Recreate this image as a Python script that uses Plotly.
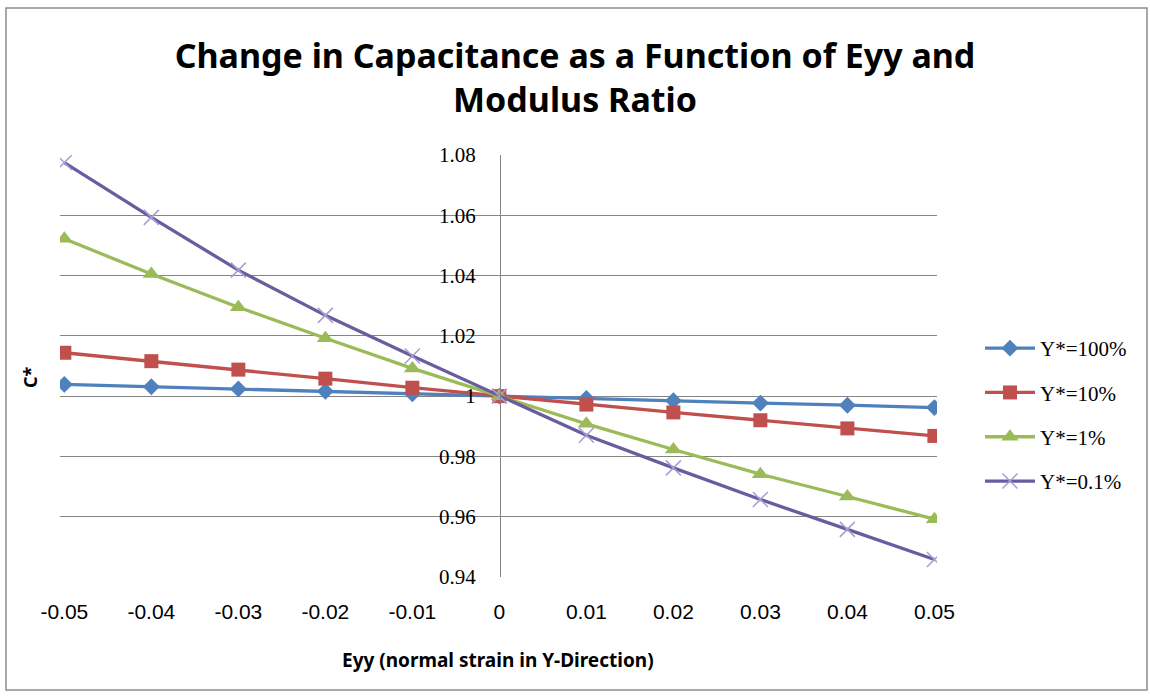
import plotly.graph_objects as go

eyy = [-0.05, -0.04, -0.03, -0.02, -0.01, 0, 0.01, 0.02, 0.03, 0.04, 0.05]
x_tick_labels = ["-0.05", "-0.04", "-0.03", "-0.02", "-0.01", "0", "0.01", "0.02", "0.03", "0.04", "0.05"]

c_100 = [1.0039, 1.0031, 1.0024, 1.0016, 1.0008, 1.0, 0.9992, 0.9985, 0.9977, 0.9970, 0.9962]
c_10 = [1.0144, 1.0116, 1.0088, 1.0058, 1.0028, 1.0, 0.9972, 0.9946, 0.9920, 0.9893, 0.9868]
c_1 = [1.0522, 1.0405, 1.0295, 1.0192, 1.0092, 1.0, 0.9908, 0.9823, 0.9741, 0.9667, 0.9592]
c_01 = [1.0775, 1.0593, 1.0418, 1.0268, 1.0133, 1.0, 0.9870, 0.9762, 0.9657, 0.9558, 0.9458]

y_ticks = [0.94, 0.96, 0.98, 1.00, 1.02, 1.04, 1.06, 1.08]
y_tick_labels = ["0.94", "0.96", "0.98", "1", "1.02", "1.04", "1.06", "1.08"]

series = [
    ("Y*=100%", c_100, "#4F81BD", "diamond", 13, "#4F81BD"),
    ("Y*=10%", c_10, "#C0504D", "square", 14, "#C0504D"),
    ("Y*=1%", c_1, "#9BBB59", "triangle-up", 15, "#9BBB59"),
    ("Y*=0.1%", c_01, "#6A5D9F", "x-thin-open", 15, "#A99CD0"),
]

fig = go.Figure()
for name, vals, col, sym, sz, mcol in series:
    mk = dict(symbol=sym, size=sz, color=mcol)
    if sym == "x-thin-open":
        mk["line"] = dict(color=mcol, width=1.5)
    fig.add_trace(go.Scatter(
        x=eyy, y=vals, name=name, mode="lines+markers",
        line=dict(color=col, width=3.3), marker=mk,
        legendgroup=name,
    ))

L, R, T, B = 60, 213, 155, 120
W, H = 1150, 697
pw = W - L - R
ph = H - T - B

def px(xp):
    return (xp - L) / pw

def py(yp):
    return (H - B - yp) / ph

fig.update_layout(
    width=W, height=H,
    margin=dict(l=L, r=R, t=T, b=B, autoexpand=False),
    paper_bgcolor="white", plot_bgcolor="white",
    title=dict(
        text="<b>Change in Capacitance as a Function of Eyy and<br>Modulus Ratio</b>",
        x=0.5, xref="container", xanchor="center",
        y=1 - 68 / H, yref="container", yanchor="middle",
        font=dict(family="Noto Sans", size=34, color="black"),
    ),
    xaxis=dict(
        range=[-0.0505, 0.0503],
        tickvals=eyy, ticktext=x_tick_labels,
        showgrid=False, zeroline=False, showline=False,
        ticks="", ticklabelstandoff=20,
        tickfont=dict(family="Liberation Sans", size=21, color="black"),
    ),
    yaxis=dict(
        range=[0.94, 1.08],
        tickvals=y_ticks, ticktext=y_tick_labels,
        showgrid=True, gridcolor="#858585", gridwidth=1,
        zeroline=False,
        anchor="free", position=px(500),
        showline=True, linecolor="#858585", linewidth=1,
        ticks="", ticklabelstandoff=20,
        tickfont=dict(family="Liberation Serif", size=21, color="black"),
    ),
    legend=dict(
        x=px(980), y=py(415), xanchor="left", yanchor="middle",
        font=dict(family="Liberation Serif", size=21, color="black"),
        tracegroupgap=14, traceorder="grouped", itemwidth=50,
        bgcolor="rgba(0,0,0,0)",
    ),
    showlegend=True,
)

fig.add_annotation(
    text="<b>Eyy (normal strain in Y-Direction)</b>",
    x=px(498), y=py(660), xref="paper", yref="paper",
    showarrow=False, xanchor="center", yanchor="middle",
    font=dict(family="Noto Sans", size=19, color="black"),
)
fig.add_annotation(
    text="<b>C*</b>",
    x=px(30), y=py(377), xref="paper", yref="paper",
    showarrow=False, textangle=-90, xanchor="center", yanchor="middle",
    font=dict(family="Noto Sans", size=18, color="black"),
)

fig.add_shape(
    type="rect", xref="paper", yref="paper",
    x0=px(6), x1=px(1147), y0=py(690), y1=py(8),
    line=dict(color="#8C8C8C", width=1.5), layer="below",
)

fig.write_html("out.html")
